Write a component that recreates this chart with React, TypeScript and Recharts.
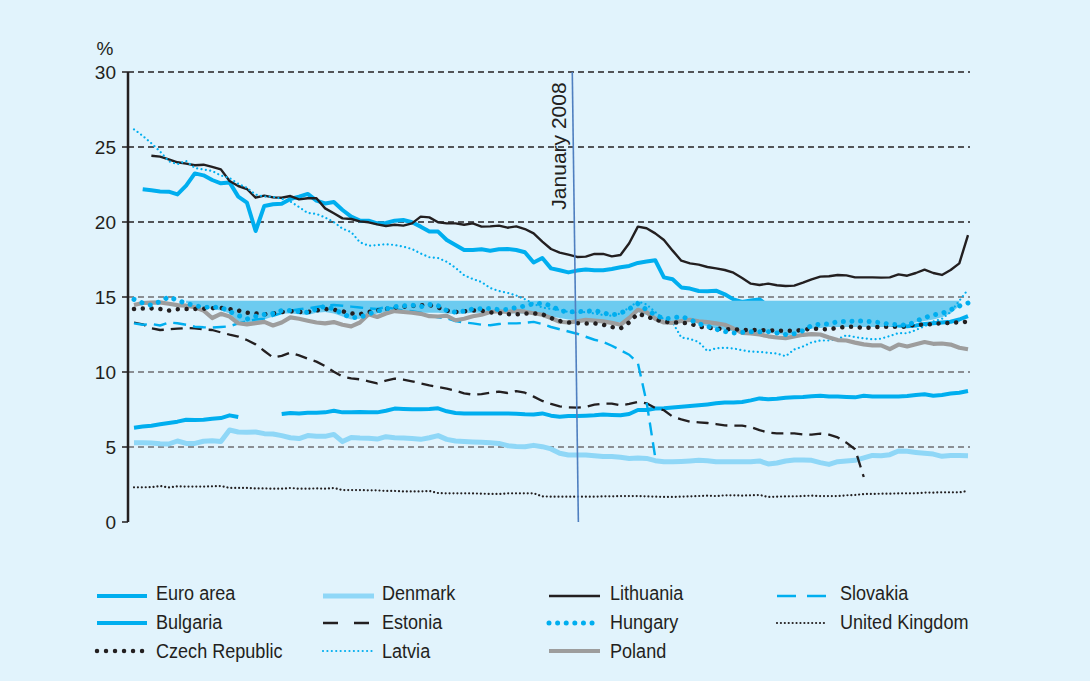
import React from 'react';
import { ComposedChart, Line, Area, XAxis, YAxis, ReferenceLine } from 'recharts';

// ---------- data (monthly observations, index 0..96) ----------
const months: number[] = [
  0, 1, 2, 3, 4, 5, 6, 7, 8, 9, 10, 11, 12, 13, 14, 15, 16, 17, 18, 19, 20, 21, 22, 23, 24,
  25, 26, 27, 28, 29, 30, 31, 32, 33, 34, 35, 36, 37, 38, 39, 40, 41, 42, 43, 44, 45, 46, 47, 48,
  49, 50, 51, 52, 53, 54, 55, 56, 57, 58, 59, 60, 61, 62, 63, 64, 65, 66, 67, 68, 69, 70, 71, 72,
  73, 74, 75, 76, 77, 78, 79, 80, 81, 82, 83, 84, 85, 86, 87, 88, 89, 90, 91, 92, 93, 94, 95, 96,
];
const JAN_2008_TOP = 50.45;
const JAN_2008_BOTTOM = 51.15;
const yTicks = [0, 5, 10, 15, 20, 25, 30];
const BAND_TOP = 14.75;

const euroArea = [
  6.29, 6.36, 6.42, 6.51, 6.6, 6.69, 6.82, 6.8, 6.82, 6.89,
  6.93, 7.11, 7.0, null, null, null, null, 7.2, 7.27, 7.24,
  7.29, 7.29, 7.31, 7.42, 7.31, 7.31, 7.33, 7.31, 7.31, 7.42,
  7.56, 7.53, 7.51, 7.51, 7.53, 7.58, 7.38, 7.27, 7.24, 7.24,
  7.24, 7.24, 7.24, 7.24, 7.22, 7.18, 7.16, 7.24, 7.09, 7.02,
  7.07, 7.07, 7.09, 7.11, 7.16, 7.13, 7.11, 7.2, 7.47, 7.47,
  7.56, 7.58, 7.64, 7.69, 7.73, 7.78, 7.84, 7.91, 7.96, 7.96,
  8.0, 8.11, 8.24, 8.18, 8.22, 8.29, 8.31, 8.33, 8.38, 8.42,
  8.36, 8.36, 8.33, 8.31, 8.42, 8.36, 8.36, 8.36, 8.36, 8.4,
  8.47, 8.51, 8.42, 8.47, 8.56, 8.62, 8.73,
];
const bulgaria = [
  null, 22.18, 22.11, 22.04, 22.02, 21.84, 22.42, 23.24, 23.11, 22.8,
  22.58, 22.64, 21.69, 21.29, 19.4, 21.07, 21.18, 21.22, 21.53, 21.69,
  21.87, 21.42, 21.24, 21.33, 20.8, 20.36, 20.09, 20.09, 19.91, 19.93,
  20.09, 20.13, 19.98, 19.69, 19.36, 19.36, 18.8, 18.47, 18.13, 18.13,
  18.18, 18.09, 18.18, 18.2, 18.13, 17.98, 17.3, 17.6, 16.91, 16.78,
  16.64, 16.76, 16.84, 16.78, 16.78, 16.87, 16.98, 17.07, 17.27, 17.36,
  17.45, 16.31, 16.18, 15.64, 15.56, 15.4, 15.38, 15.42, 15.18, 14.84,
  14.67, 14.76, 14.84, 14.4, 13.9, 13.3, 12.85, 12.9, 13.05, 13.1,
  13.15, 13.15, 13.15, 13.15, 13.15, 13.15, 13.15, 13.15, 13.1, 13.05,
  13.1, 13.2, 13.25, 13.3, 13.35, 13.5, 13.73,
];
const czechRepublic = [
  14.2, 14.24, 14.24, 14.2, 14.1, 14.18, 14.2, 14.2, 14.22, 14.25,
  14.28, 14.2, 14.1, 13.95, 13.9, 13.85, 13.9, 14.0, 14.05, 14.0,
  14.0, 14.1, 14.2, 14.15, 14.05, 13.9, 13.85, 14.0, 14.1, 14.2,
  14.3, 14.35, 14.4, 14.45, 14.47, 14.3, 14.1, 14.0, 14.05, 14.1,
  14.09, 13.98, 13.92, 13.86, 13.84, 13.9, 13.91, 13.85, 13.6, 13.4,
  13.3, 13.26, 13.24, 13.24, 13.15, 13.0, 12.9, 13.3, 13.9, 13.7,
  13.5, 13.35, 13.3, 13.28, 13.24, 13.02, 12.95, 12.9, 12.85, 12.85,
  12.8, 12.8, 12.8, 12.78, 12.75, 12.75, 12.75, 12.8, 12.9, 12.86,
  12.84, 12.95, 13.02, 13.02, 12.93, 12.97, 13.02, 13.02, 13.02, 13.02,
  13.18, 13.14, 13.22, 13.24, 13.28, 13.31, 13.35,
];
const denmark = [
  5.29, 5.29, 5.27, 5.22, 5.2, 5.4, 5.24, 5.24, 5.38, 5.42,
  5.36, 6.13, 6.0, 5.98, 6.0, 5.89, 5.87, 5.76, 5.62, 5.56,
  5.76, 5.71, 5.71, 5.84, 5.36, 5.64, 5.6, 5.58, 5.53, 5.69,
  5.62, 5.6, 5.56, 5.51, 5.62, 5.76, 5.51, 5.4, 5.36, 5.33,
  5.31, 5.29, 5.24, 5.09, 5.04, 5.02, 5.11, 5.02, 4.87, 4.58,
  4.47, 4.47, 4.47, 4.42, 4.36, 4.36, 4.31, 4.24, 4.27, 4.24,
  4.09, 4.02, 4.02, 4.04, 4.07, 4.11, 4.09, 4.02, 4.02, 4.02,
  4.02, 4.02, 4.07, 3.87, 3.93, 4.07, 4.13, 4.13, 4.11, 3.96,
  3.84, 4.02, 4.07, 4.11, 4.27, 4.44, 4.42, 4.49, 4.73, 4.71,
  4.64, 4.58, 4.53, 4.38, 4.44, 4.44, 4.42,
];
const estonia = [
  13.29, 13.18, 12.91, 12.8, 12.84, 12.89, 12.93, 12.91, 12.84, 12.8,
  12.64, 12.49, 12.36, 12.13, 11.84, 11.4, 10.96, 11.07, 11.29, 11.11,
  10.89, 10.69, 10.4, 10.02, 9.69, 9.58, 9.51, 9.38, 9.24, 9.42,
  9.56, 9.49, 9.38, 9.24, 9.11, 9.0, 8.89, 8.76, 8.58, 8.49,
  8.53, 8.62, 8.69, 8.6, 8.73, 8.62, 8.36, 8.07, 7.87, 7.71,
  7.64, 7.62, 7.67, 7.82, 7.89, 7.89, 7.78, 7.87, 8.0, 7.91,
  7.6, 7.45, 7.02, 6.84, 6.69, 6.64, 6.6, 6.53, 6.44, 6.42,
  6.42, 6.33, 6.13, 5.96, 5.91, 5.91, 5.91, 5.84, 5.82, 5.89,
  5.82, 5.64, 5.29, 4.85, 3.0, null, null, null, null, null,
  null, null, null, null, null, null, null,
];
const latvia = [
  26.18, 25.75, 25.25, 24.7, 24.05, 23.85, 24.07, 23.6, 23.5, 23.4,
  23.1, 22.93, 22.55, 22.28, 21.83, 21.7, 21.68, 21.55, 21.37, 21.0,
  20.6, 20.54, 20.3, 20.0, 19.55, 19.33, 18.65, 18.42, 18.46, 18.52,
  18.47, 18.36, 18.2, 17.9, 17.65, 17.6, 17.35, 16.95, 16.45, 16.2,
  16.0, 15.6, 15.4, 15.28, 15.1, 14.85, 14.55, 14.3, 14.2, 14.15,
  14.0, 13.95, 14.0, 13.9, 13.8, 13.75, 13.9, 14.3, 14.7, 14.5,
  14.0, 13.5, 13.3, 12.3, 12.2, 12.0, 11.4, 11.58, 11.62, 11.57,
  11.45, 11.36, 11.34, 11.28, 11.23, 11.05, 11.5, 11.7, 11.98, 12.1,
  12.1, 12.2, 12.45, 12.33, 12.24, 12.18, 12.22, 12.4, 12.6, 12.58,
  12.8, 13.05, 13.36, 13.55, 14.0, 14.75, 15.5,
];
const lithuania = [
  null, null, 24.42, 24.36, 24.18, 23.98, 23.89, 23.78, 23.82, 23.67,
  23.51, 22.73, 22.4, 22.2, 21.62, 21.76, 21.64, 21.62, 21.73, 21.51,
  21.58, 21.58, 20.91, 20.58, 20.24, 20.2, 20.04, 19.98, 19.84, 19.73,
  19.82, 19.76, 19.91, 20.36, 20.31, 19.98, 19.91, 19.91, 19.82, 19.91,
  19.69, 19.71, 19.76, 19.62, 19.71, 19.53, 19.24, 18.69, 18.2, 17.96,
  17.82, 17.67, 17.69, 17.87, 17.87, 17.71, 17.8, 18.58, 19.69, 19.58,
  19.24, 18.8, 18.09, 17.42, 17.24, 17.16, 17.0, 16.91, 16.8, 16.62,
  16.27, 15.89, 15.8, 15.89, 15.78, 15.73, 15.76, 15.96, 16.18, 16.36,
  16.38, 16.47, 16.44, 16.31, 16.31, 16.31, 16.29, 16.31, 16.51, 16.42,
  16.6, 16.82, 16.6, 16.47, 16.8, 17.24, 19.13,
];
const hungary = [
  14.84, 14.6, 14.45, 14.7, 15.0, 14.78, 14.58, 14.42, 14.32, 14.31,
  14.31, 14.03, 13.78, 13.53, 13.72, 13.83, 13.9, 14.1, 14.1, 14.03,
  13.98, 14.2, 14.38, 14.2, 13.88, 13.62, 13.64, 13.87, 14.05, 14.2,
  14.36, 14.4, 14.46, 14.35, 14.5, 14.42, 14.1, 13.99, 14.06, 14.2,
  14.22, 14.23, 14.16, 14.17, 14.3, 14.4, 14.55, 14.58, 14.42, 14.1,
  14.0, 14.02, 14.05, 14.1, 13.95, 13.8, 13.92, 14.2, 14.55, 14.15,
  13.8, 13.55, 13.6, 13.7, 13.5, 13.22, 13.05, 12.85, 12.7, 12.6,
  12.64, 12.69, 12.69, 12.69, 12.6, 12.5, 12.55, 12.75, 13.1, 13.2,
  13.2, 13.36, 13.36, 13.4, 13.4, 13.35, 13.28, 13.18, 13.16, 13.1,
  13.38, 13.62, 13.8, 13.9, 14.15, 14.4, 14.6,
];
const poland = [
  14.47, 14.6, 14.63, 14.64, 14.55, 14.46, 14.42, 14.32, 14.1, 13.6,
  13.88, 13.7, 13.25, 13.18, 13.26, 13.34, 13.1, 13.3, 13.64, 13.55,
  13.42, 13.3, 13.24, 13.33, 13.15, 13.04, 13.3, 13.85, 13.67, 13.9,
  14.06, 14.0, 13.95, 13.88, 13.72, 13.7, 13.75, 13.45, 13.55, 13.72,
  13.82, 14.0, 14.05, 14.0, 14.07, 14.02, 13.92, 13.82, 13.6, 13.35,
  13.3, 13.38, 13.47, 13.42, 13.37, 13.28, 13.15, 13.6, 14.15, 13.98,
  13.55, 13.3, 13.28, 13.4, 13.48, 13.38, 13.32, 13.24, 13.15, 12.9,
  12.6, 12.57, 12.5, 12.38, 12.3, 12.26, 12.37, 12.48, 12.53, 12.5,
  12.3, 12.13, 12.1, 11.96, 11.84, 11.78, 11.78, 11.52, 11.83, 11.7,
  11.85, 12.0, 11.88, 11.9, 11.83, 11.62, 11.52,
];
const slovakia = [
  13.24, 13.15, 13.2, 13.1, 13.3, 13.25, 13.15, 13.02, 12.98, 12.96,
  13.0, 13.05, 13.24, 13.38, 13.5, 13.56, 13.75, 13.93, 14.08, 14.18,
  14.25, 14.33, 14.42, 14.47, 14.42, 14.36, 14.3, 14.24, 14.2, 14.33,
  14.2, 14.1, 14.05, 13.95, 13.75, 13.65, 13.58, 13.4, 13.3, 13.24,
  13.15, 13.12, 13.2, 13.24, 13.24, 13.28, 13.34, 13.2, 13.0, 12.85,
  12.7, 12.55, 12.35, 12.15, 12.0, 11.75, 11.45, 11.15, 10.6, 8.0,
  4.3, null, null, null, null, null, null, null, null, null,
  null, null, null, null, null, null, null, null, null, null,
  null, null, null, null, null, null, null, null, null, null,
  null, null, null, null, null, null, null,
];
const unitedKingdom = [
  2.31, 2.31, 2.33, 2.4, 2.31, 2.38, 2.36, 2.36, 2.36, 2.38,
  2.4, 2.27, 2.27, 2.27, 2.24, 2.24, 2.22, 2.22, 2.27, 2.22,
  2.22, 2.24, 2.22, 2.27, 2.13, 2.13, 2.13, 2.11, 2.11, 2.07,
  2.07, 2.04, 2.04, 2.04, 2.07, 1.93, 1.91, 1.91, 1.91, 1.91,
  1.89, 1.87, 1.87, 1.91, 1.91, 1.91, 1.91, 1.71, 1.69, 1.69,
  1.69, 1.69, 1.69, 1.69, 1.71, 1.71, 1.73, 1.73, 1.73, 1.71,
  1.69, 1.67, 1.67, 1.69, 1.71, 1.73, 1.76, 1.73, 1.78, 1.78,
  1.76, 1.78, 1.8, 1.67, 1.69, 1.71, 1.71, 1.73, 1.76, 1.73,
  1.73, 1.73, 1.78, 1.8, 1.87, 1.87, 1.89, 1.89, 1.91, 1.91,
  1.91, 1.96, 1.96, 1.98, 1.98, 1.98, 2.07,
];
const bandLow = [
  null, null, null, null, null, null, 14.6, 14.45, 14.3, 14.2,
  14.1, 13.9, 13.4, 13.2, 13.25, 13.5, 13.7, 13.9, 13.9, 13.85,
  13.8, 13.95, 14.0, 13.9, 13.7, 13.5, 13.55, 13.75, 13.9, 14.0,
  14.0, 14.0, 14.0, 13.95, 13.95, 13.95, 13.9, 13.85, 13.9, 13.95,
  13.95, 13.95, 13.95, 13.95, 13.9, 13.9, 13.9, 13.85, 13.7, 13.6,
  13.5, 13.45, 13.45, 13.5, 13.4, 13.35, 13.3, 13.5, 14.0, 13.8,
  13.6, 13.45, 13.4, 13.45, 13.4, 13.2, 13.05, 12.9, 12.8, 12.7,
  12.7, 12.7, 12.65, 12.6, 12.55, 12.45, 12.5, 12.7, 12.9, 12.95,
  13.0, 13.0, 13.0, 13.0, 13.0, 13.0, 13.0, 13.0, 13.15, 13.2,
  13.3, 13.4, 13.5, 13.65, 13.9, 14.4, null,
];

// ---------- styles ----------
const CYAN = '#00aeef';
const LIGHT = '#8fd7f7';
const BLACK = '#231f20';
const GRAY = '#9d9d9d';
const BAND = '#6ccbf0';
const BG = '#e1f3fc';
const VLINE = '#4f7fc0';
const FONT = '"Liberation Sans", Arial, Helvetica, sans-serif';

const rows = months.map((m, k) => ({
  i: m,
  euro: euroArea[k],
  bg: bulgaria[k],
  cz: czechRepublic[k],
  dk: denmark[k],
  ee: estonia[k],
  lv: latvia[k],
  lt: lithuania[k],
  hu: hungary[k],
  pl: poland[k],
  sk: slovakia[k],
  uk: unitedKingdom[k],
  band: bandLow[k] == null ? null : [bandLow[k], BAND_TOP],
}));

type Sty = { stroke: string; strokeWidth: number; dash?: string; legendDash?: string; cap?: 'round' | 'butt' };
const S: Record<string, Sty> = {
  euro: { stroke: CYAN, strokeWidth: 4 },
  bg: { stroke: CYAN, strokeWidth: 4 },
  cz: { stroke: BLACK, strokeWidth: 4.5, dash: '0.01 8.8', legendDash: '0.01 9', cap: 'round' },
  dk: { stroke: LIGHT, strokeWidth: 5 },
  ee: { stroke: BLACK, strokeWidth: 2.3, dash: '12 7', legendDash: '15 16' },
  lv: { stroke: CYAN, strokeWidth: 2.2, dash: '0.01 4.4', legendDash: '0.01 4.4', cap: 'round' },
  lt: { stroke: BLACK, strokeWidth: 2.4 },
  hu: { stroke: CYAN, strokeWidth: 5, dash: '0.01 8.6', legendDash: '0.01 8.6', cap: 'round' },
  pl: { stroke: GRAY, strokeWidth: 4.2 },
  sk: { stroke: CYAN, strokeWidth: 2.4, dash: '13 7', legendDash: '19 11' },
  uk: { stroke: BLACK, strokeWidth: 2.2, dash: '0.01 3.9', legendDash: '0.01 3.9', cap: 'round' },
};

const legendItems = [
  { key: 'euro', name: 'Euro area', col: 0, row: 0 },
  { key: 'bg', name: 'Bulgaria', col: 0, row: 1 },
  { key: 'cz', name: 'Czech Republic', col: 0, row: 2 },
  { key: 'dk', name: 'Denmark', col: 1, row: 0 },
  { key: 'ee', name: 'Estonia', col: 1, row: 1 },
  { key: 'lv', name: 'Latvia', col: 1, row: 2 },
  { key: 'lt', name: 'Lithuania', col: 2, row: 0 },
  { key: 'hu', name: 'Hungary', col: 2, row: 1 },
  { key: 'pl', name: 'Poland', col: 2, row: 2 },
  { key: 'sk', name: 'Slovakia', col: 3, row: 0 },
  { key: 'uk', name: 'United Kingdom', col: 3, row: 1 },
];
const legendCols = [
  { x1: 97, x2: 147, tx: 156 },
  { x1: 323, x2: 374, tx: 382 },
  { x1: 549, x2: 600, tx: 610 },
  { x1: 777, x2: 827, tx: 840 },
];
const legendRowsY = [
  { line: 596, text: 600 },
  { line: 623, text: 629 },
  { line: 651, text: 658 },
];

function renderLine(key: string, extra: Record<string, unknown> = {}) {
  const s = S[key];
  return (
    <Line
      key={key}
      yAxisId="l"
      type="linear"
      dataKey={key}
      stroke={s.stroke}
      strokeWidth={s.strokeWidth}
      strokeDasharray={s.dash}
      strokeLinecap={s.cap || 'butt'}
      strokeLinejoin="round"
      dot={false}
      activeDot={false}
      isAnimationActive={false}
      connectNulls={false}
      {...extra}
    />
  );
}

export default function App() {
  return (
    <div style={{ position: 'fixed', left: 0, top: 0, width: 1090, height: 681, background: BG, overflow: 'hidden' }}>
      <ComposedChart width={1090} height={681} data={rows} margin={{ top: 72, right: 120, left: 88, bottom: 159 }}>
        <XAxis
          dataKey="i"
          type="number"
          domain={[0, 96]}
          padding={{ left: 6, right: 2 }}
          tick={false}
          tickLine={false}
          height={0}
          axisLine={{ stroke: BLACK, strokeWidth: 2.5 }}
        />
        <YAxis
          yAxisId="l"
          domain={[0, 30]}
          ticks={yTicks}
          interval={0}
          width={40}
          tickSize={6}
          tickMargin={6}
          tick={{ fontSize: 19, fill: BLACK, fontFamily: FONT }}
          tickLine={{ stroke: BLACK, strokeWidth: 1.5 }}
          axisLine={{ stroke: BLACK, strokeWidth: 2.5 }}
        />
        <YAxis
          yAxisId="r"
          orientation="right"
          domain={[0, 30]}
          tick={false}
          tickLine={false}
          width={0}
          axisLine={{ stroke: BLACK, strokeWidth: 2.5 }}
        />
        {yTicks.filter((v) => v > 0).map((v) => (
          <ReferenceLine
            key={'g' + v}
            yAxisId="l"
            y={v}
            stroke={v > 15 ? BLACK : '#6d6e70'}
            strokeWidth={1.3}
            strokeDasharray="6 4"
            zIndex={-50}
          />
        ))}
        {renderLine('euro')}
        {renderLine('dk')}
        {renderLine('uk')}
        {renderLine('ee')}
        {renderLine('bg', { zIndex: 50 })}
        <Area
          yAxisId="l"
          type="linear"
          dataKey="band"
          stroke="none"
          fill={BAND}
          fillOpacity={1}
          isAnimationActive={false}
          connectNulls={false}
          dot={false}
          activeDot={false}
        />
        {renderLine('sk')}
        {renderLine('lt')}
        {renderLine('lv')}
        {renderLine('pl')}
        {renderLine('cz')}
        {renderLine('hu')}
        <ReferenceLine
          yAxisId="l"
          segment={[{ x: JAN_2008_TOP, y: 30 }, { x: JAN_2008_BOTTOM, y: 0 }]}
          stroke={VLINE}
          strokeWidth={1.6}
          zIndex={600}
        />
      </ComposedChart>
      <svg width={1090} height={681} style={{ position: 'absolute', left: 0, top: 0, pointerEvents: 'none' }}>
        <text x={105} y={55} textAnchor="middle" fontSize={19} fill={BLACK} fontFamily={FONT}>%</text>
        <text transform="translate(566,146) rotate(-90)" textAnchor="middle" fontSize={21} fill={BLACK} fontFamily={FONT}>
          January 2008
        </text>
        {legendItems.map((it) => {
          const s = S[it.key];
          const c = legendCols[it.col];
          const r = legendRowsY[it.row];
          return (
            <g key={it.key}>
              <line
                x1={c.x1}
                x2={c.x2}
                y1={r.line}
                y2={r.line}
                stroke={s.stroke}
                strokeWidth={s.strokeWidth}
                strokeDasharray={s.legendDash}
                strokeLinecap={s.cap || 'butt'}
              />
              <text
                transform={`translate(${c.tx},${r.text}) scale(0.86,1)`}
                fontSize={21}
                fill={BLACK}
                fontFamily={FONT}
              >
                {it.name}
              </text>
            </g>
          );
        })}
      </svg>
    </div>
  );
}
